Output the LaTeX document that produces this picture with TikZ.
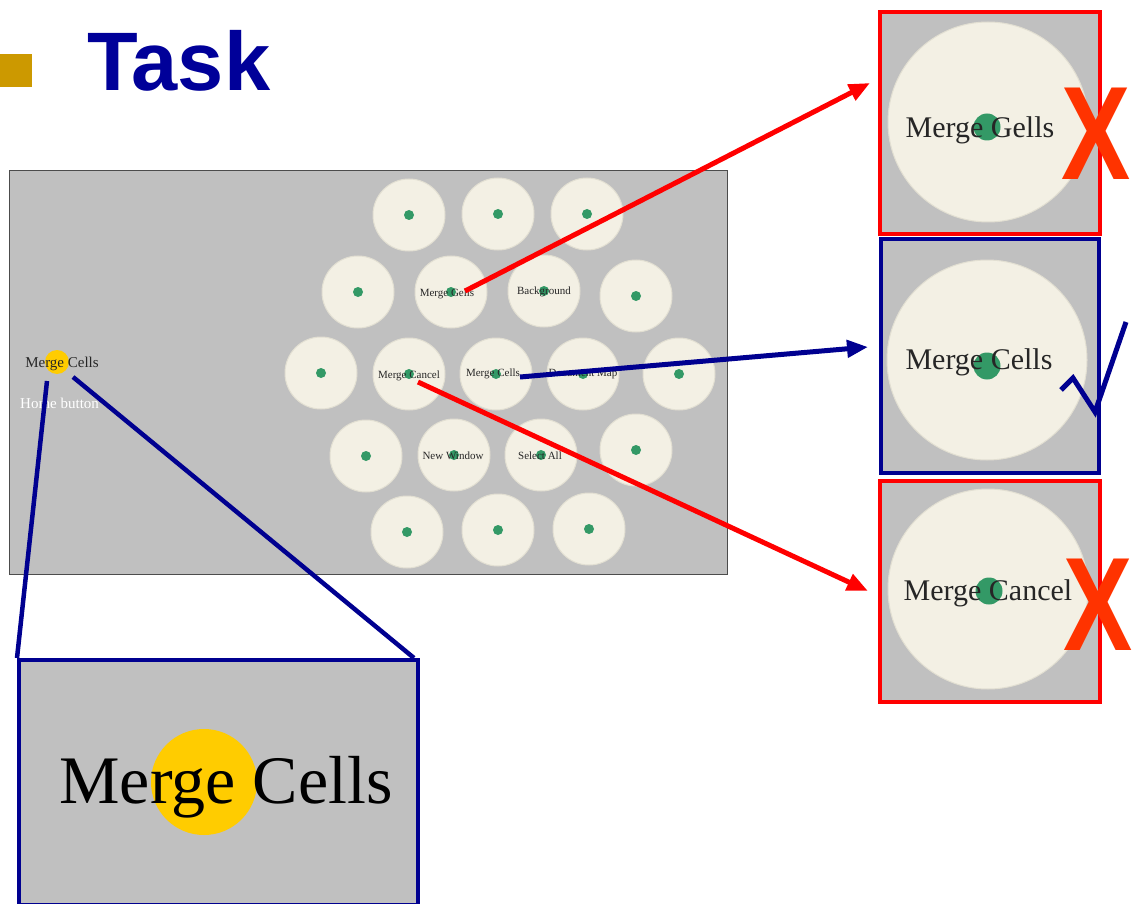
\documentclass[tikz,border=0pt]{standalone}
\usepackage{fontspec}
\setmainfont{Liberation Serif}
\newfontfamily\titlefont{Liberation Sans}
\usetikzlibrary{arrows.meta}
\definecolor{panelgray}{HTML}{C0C0C0}
\definecolor{beige}{HTML}{F3F0E4}
\definecolor{beigeedge}{HTML}{E2DFD2}
\definecolor{dotgreen}{HTML}{339966}
\definecolor{navy}{HTML}{000090}
\definecolor{titleblue}{HTML}{000099}
\definecolor{gold}{HTML}{CC9900}
\definecolor{xred}{HTML}{FF3300}
\definecolor{yel}{HTML}{FFCC00}
\tikzset{
  cell/.style={circle,fill=beige,draw=beigeedge,line width=1pt,minimum size=72pt,inner sep=0pt},
  gdot/.style={circle,fill=dotgreen,minimum size=10pt,inner sep=0pt},
  bigdot/.style={circle,fill=dotgreen,minimum size=27pt,inner sep=0pt},
  bigcell/.style={circle,fill=beige,draw=beigeedge,line width=1pt,minimum size=200pt,inner sep=0pt},
  clabel/.style={font=\fontsize{11}{11}\selectfont,text=black!85,inner sep=0pt,anchor=base},
  blabel/.style={font=\fontsize{30}{30}\selectfont,text=black!85,inner sep=0pt,anchor=base},
  redbox/.style={draw=red,line width=4pt,fill=panelgray},
  bluebox/.style={draw=navy,line width=4pt,fill=panelgray},
  redarrow/.style={draw=red,line width=5pt,-{Triangle[length=21pt,width=17pt]}},
  bluearrow/.style={draw=navy,line width=5pt,-{Triangle[length=21pt,width=17pt]}},
  blueline/.style={draw=navy,line width=4.5pt},
  xmark/.style={font=\titlefont\bfseries\fontsize{133}{133}\selectfont,text=xred,inner sep=0pt,anchor=base west,xscale=0.78},
}
\begin{document}
\begin{tikzpicture}[x=1pt,y=-1pt]
\useasboundingbox (0,0) rectangle (1135,904);
% title
\fill[gold] (0,54) rectangle (32,87);
\node[font=\titlefont\bfseries\fontsize{83}{83}\selectfont,text=titleblue,inner sep=0pt,anchor=base west] (title) at (87,91) {Task};
% panel
\node[draw=black!70,line width=0.8pt,fill=panelgray,minimum width=718pt,minimum height=404pt,inner sep=0pt,anchor=north west] (panel) at (9,170) {};
% circles
\foreach \n/\x/\y in {a1/409/215,a2/498/214,a3/587/214,
  b1/358/292,b2/451/292,b3/544/291,b4/636/296,
  c1/321/373,c2/409/374,c3/496/374,c4/583/374,c5/679/374,
  d1/366/456,d2/454/455,d3/541/455,d4/636/450,
  e1/407/532,e2/498/530,e3/589/529}{
  \node[cell] (\n) at (\x,\y) {};
  \node[gdot] (\n dot) at (\x,\y) {};
}
\node[clabel] (lb2) at (447,296) {Merge Gells};
\node[clabel] (lb3) at (544,294) {Background};
\node[clabel] (lc2) at (409,378) {Merge Cancel};
\node[clabel] (lc3) at (493,376) {Merge Cells};
\node[clabel] (lc4) at (583,376) {Document Map};
\node[clabel] (ld2) at (453,459) {New Window};
\node[clabel] (ld3) at (540,459) {Select All};
% home button
\node[circle,fill=yel,minimum size=24pt,inner sep=0pt] (homedot) at (57,362) {};
\node[font=\fontsize{15}{15}\selectfont,text=black!85,inner sep=0pt,anchor=base] (homelabel) at (62,367) {Merge Cells};
\node[font=\fontsize{15}{15}\selectfont,text=white,inner sep=0pt,anchor=base west] (hometext) at (20,408) {Home button};
% zoom box
\node[bluebox,minimum width=399pt,minimum height=245pt,inner sep=0pt,anchor=north west] (zoombox) at (17,658) {};
\node[circle,fill=yel,minimum size=106pt,inner sep=0pt] (zoomdot) at (204,782) {};
\node[font=\fontsize{68}{68}\selectfont,text=black,inner sep=0pt,anchor=base] (zoomtext) at (226,803) {Merge Cells};
\coordinate (hl) at (47,381);
\coordinate (hr) at (73,377);
\draw[blueline] (hl) -- (zoombox.north west);
\draw[blueline] (hr) -- ([xshift=-6pt]zoombox.north east);
% right boxes
\node[redbox,minimum width=220pt,minimum height=222pt,inner sep=0pt,anchor=north west] (box1) at (878,10) {};
\node[bigcell] (big1) at (988,122) {};
\node[bigdot] (bdot1) at (987,127) {};
\node[blabel] (bt1) at (980,138) {Merge Gells};
\node[bluebox,minimum width=218pt,minimum height=234pt,inner sep=0pt,anchor=north west] (box2) at (879,237) {};
\node[bigcell] (big2) at (987,360) {};
\node[bigdot] (bdot2) at (987,366) {};
\node[blabel] (bt2) at (979,369) {Merge Cells};
\node[redbox,minimum width=220pt,minimum height=221pt,inner sep=0pt,anchor=north west] (box3) at (878,479) {};
\node[bigcell] (big3) at (988,589) {};
\node[bigdot] (bdot3) at (989,591) {};
\node[bcell/.style={},blabel] (bt3) at (988,600) {Merge Cancel};
% marks
\node[xmark] (x1) at (1061,180) {X};
\node[xmark] (x2) at (1063,650) {X};
\coordinate (ck0) at (1061,390);
\coordinate (ck1) at (1073,378);
\coordinate (ck2) at (1095,412);
\coordinate (ck3) at (1126,322);
\draw[navy,line width=5pt,line join=miter] (ck0) -- (ck1) -- (ck2) -- (ck3);
% arrows
\coordinate (s1) at (465,291);
\coordinate (t1) at (870,83);
\coordinate (s2) at (520,377);
\coordinate (t2) at (868,347);
\coordinate (s3) at (418,382);
\coordinate (t3) at (868,591);
\draw[redarrow] (s1) -- (t1);
\draw[bluearrow] (s2) -- (t2);
\draw[redarrow] (s3) -- (t3);
\end{tikzpicture}
\end{document}
